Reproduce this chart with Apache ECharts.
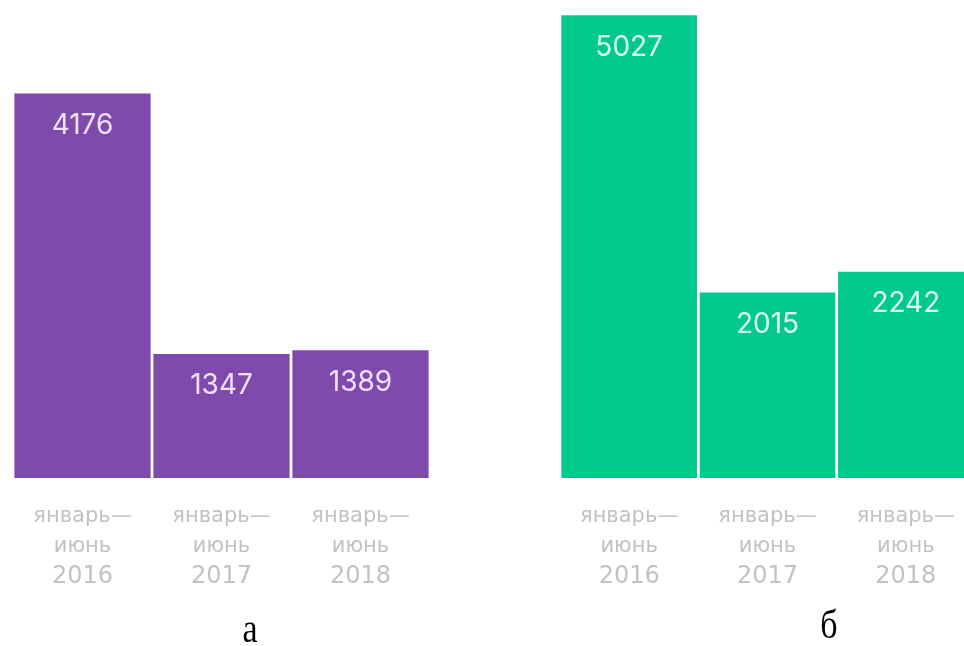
<!DOCTYPE html>
<html>
<head>
<meta charset="utf-8">
<script src="https://cdn.jsdelivr.net/npm/echarts@6/dist/echarts.min.js"></script>
<style>html,body{margin:0;padding:0;background:#fff}#c{width:964px;height:646px}</style>
</head>
<body>
<div id="c"></div>
<script>
const categories = ['январь—\nиюнь\n2016', 'январь—\nиюнь\n2017', 'январь—\nиюнь\n2018'];
const valuesA = [4176, 1347, 1389];
const valuesB = [5027, 2015, 2242];
const panelLabels = ['а', 'б'];
const yMax = 5030;

const chart = echarts.init(document.getElementById('c'));

const labelFont = '"DejaVu Sans", sans-serif';
const labelGray = '#c2c2c2';

function xAxisFor(gridIndex) {
  return {
    type: 'category', gridIndex, data: categories,
    axisLine: {show: false}, axisTick: {show: false},
    axisLabel: {
      margin: 24,
      interval: 0,
      formatter: function (v) {
        const p = v.split('\n');
        return '{t|' + p[0] + '}\n{t|' + p[1] + '}\n{y|' + p[2] + '}';
      },
      rich: {
        t: {fontSize: 21, color: labelGray, fontFamily: labelFont, lineHeight: 30},
        y: {fontSize: 24, color: labelGray, fontFamily: labelFont, lineHeight: 30}
      }
    }
  };
}
function yAxisFor(gridIndex) {
  return {type: 'value', gridIndex, min: 0, max: yMax, show: false, splitLine: {show: false}};
}
function barSeries(idx, data, color, labelColor) {
  return {
    type: 'bar', xAxisIndex: idx, yAxisIndex: idx, data,
    barCategoryGap: '2%',
    itemStyle: {color},
    label: {
      show: true, position: 'insideTop', distance: 18,
      color: labelColor, fontSize: 28, fontFamily: 'Inter, sans-serif'
    },
    silent: true
  };
}

chart.setOption({
  animation: false,
  grid: [
    {left: 13, top: 15, width: 417, height: 463, outerBoundsMode: 'none', containLabel: false},
    {left: 560, top: 15, width: 415, height: 463, outerBoundsMode: 'none', containLabel: false}
  ],
  xAxis: [xAxisFor(0), xAxisFor(1)],
  yAxis: [yAxisFor(0), yAxisFor(1)],
  series: [
    barSeries(0, valuesA, '#7e4bad', '#f1e0ff'),
    barSeries(1, valuesB, '#00c98b', '#d8fdee')
  ],
  graphic: [
    {type: 'text', x: 250, y: 632, scaleY: 1.15, style: {text: panelLabels[0], align: 'center', verticalAlign: 'middle', font: '34px "Liberation Serif", serif', fill: '#000'}},
    {type: 'text', x: 829, y: 628, scaleY: 1.15, style: {text: panelLabels[1], align: 'center', verticalAlign: 'middle', font: '34px "Liberation Serif", serif', fill: '#000'}}
  ]
});
</script>
</body>
</html>
